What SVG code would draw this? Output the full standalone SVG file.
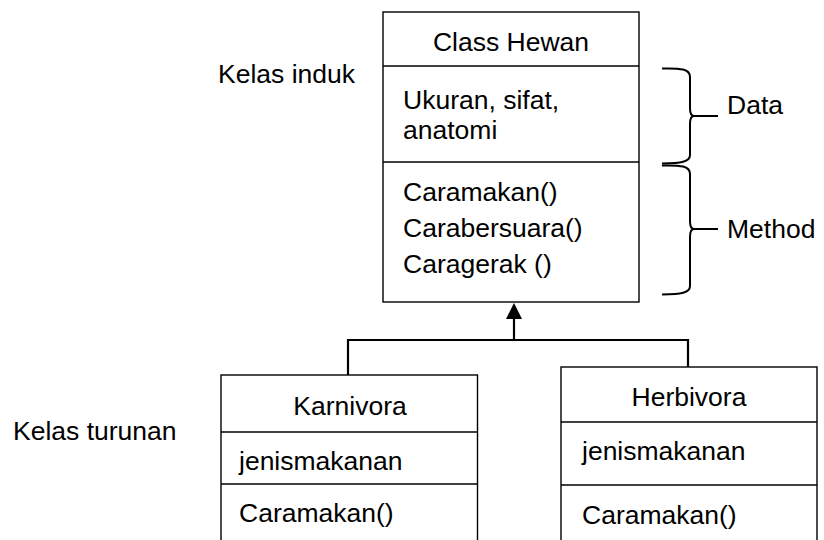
<svg xmlns="http://www.w3.org/2000/svg" width="824" height="540" viewBox="0 0 824 540">
<style>
text{font-family:"Liberation Sans",Arial,sans-serif;font-size:26.5px;fill:#000}
.box{fill:#fff;stroke:#000;stroke-width:1.4}
.div{stroke:#000;stroke-width:1.4}
.con{fill:none;stroke:#000;stroke-width:2.2}
.brace{fill:none;stroke:#000;stroke-width:2}
</style>
<rect width="824" height="540" fill="#fff"/>
<g id="label-induk"><text x="218" y="83">Kelas induk</text></g>
<g id="label-turunan"><text x="13" y="440">Kelas turunan</text></g>
<g id="hewan">
<rect class="box" x="383" y="12" width="256" height="290"/>
<line class="div" x1="383" y1="66" x2="639" y2="66"/>
<line class="div" x1="383" y1="162" x2="639" y2="162"/>
<text x="511" y="51" text-anchor="middle">Class Hewan</text>
<text x="403" y="109">Ukuran, sifat,</text>
<text x="403" y="139">anatomi</text>
<text x="403" y="201">Caramakan()</text>
<text x="403" y="237">Carabersuara()</text>
<text x="403" y="273">Caragerak ()</text>
</g>
<g id="brace-data">
<path class="brace" d="M662,68.5 C681,68 690,69 690,77 L690,108 C690,113 691,116 694,116 C691,116 690,119 690,124 L690,155 C690,162 681,163 662,163.5 M694,116 H718"/>
<text x="727" y="114">Data</text>
</g>
<g id="brace-method">
<path class="brace" d="M662,165.5 C681,165 690,166 690,174 L690,221 C690,226 691,229 694,229 C691,229 690,232 690,237 L690,286 C690,293 681,294 662,294.5 M694,229 H718"/>
<text x="727" y="238">Method</text>
</g>
<g id="karnivora">
<rect class="box" x="221" y="375" width="256.5" height="180"/>
<line class="div" x1="221" y1="432" x2="477.5" y2="432"/>
<line class="div" x1="221" y1="484" x2="477.5" y2="484"/>
<text x="350" y="415" text-anchor="middle">Karnivora</text>
<text x="239" y="470">jenismakanan</text>
<text x="239" y="522">Caramakan()</text>
</g>
<g id="herbivora">
<rect class="box" x="561" y="367" width="256" height="190"/>
<line class="div" x1="561" y1="422" x2="817" y2="422"/>
<line class="div" x1="561" y1="485" x2="817" y2="485"/>
<text x="689" y="406" text-anchor="middle">Herbivora</text>
<text x="582" y="460">jenismakanan</text>
<text x="582" y="524">Caramakan()</text>
</g>
<g id="connectors">
<path class="con" d="M514,340 V318"/>
<path class="con" d="M348,375 V340 H688 V367"/>
<polygon points="514,303 506,319 522,319" fill="#000"/>
</g>
</svg>
